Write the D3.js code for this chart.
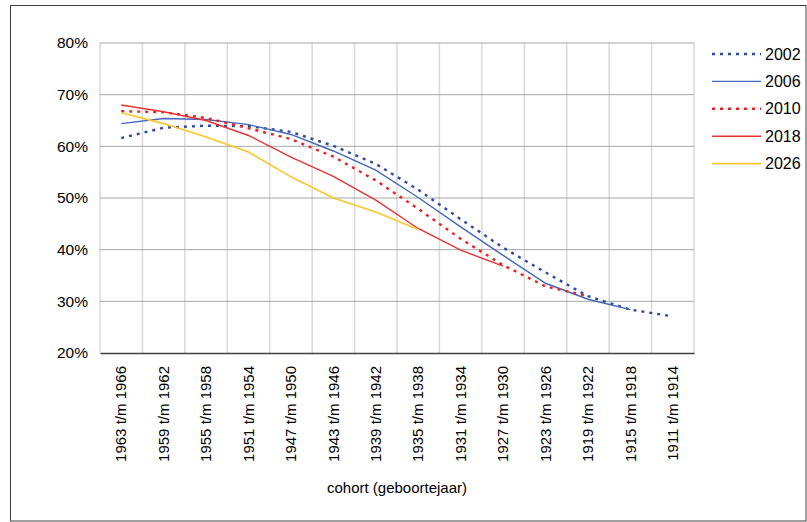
<!DOCTYPE html>
<html>
<head>
<meta charset="utf-8">
<style>
body { margin: 0; background: #fff; }
svg { font-family: Arial, "Liberation Sans", sans-serif; }
.grid-h line { stroke: #a6a6a6; stroke-width: 1; }
.grid-v line { stroke: #d9d9d9; stroke-width: 1.5; }
</style>
<title>cohort</title>
</head>
<body>
<svg width="807" height="522"></svg>
<script src="https://d3js.org/d3.v7.min.js"></script>
<script>
// categories and series
var cohorts = ["1963 t/m 1966", "1959 t/m 1962", "1955 t/m 1958", "1951 t/m 1954",
  "1947 t/m 1950", "1943 t/m 1946", "1939 t/m 1942", "1935 t/m 1938",
  "1931 t/m 1934", "1927 t/m 1930", "1923 t/m 1926", "1919 t/m 1922",
  "1915 t/m 1918", "1911 t/m 1914"];

var y2002 = [0.616, 0.636, 0.640, 0.639, 0.628, 0.601, 0.566, 0.516, 0.459, 0.404, 0.356, 0.310, 0.284, 0.271];
var y2006 = [0.644, 0.654, 0.652, 0.642, 0.623, 0.591, 0.554, 0.501, 0.444, 0.389, 0.335, 0.304, 0.284, null];
var y2010 = [0.668, 0.666, 0.655, 0.635, 0.614, 0.580, 0.534, 0.479, 0.421, 0.370, 0.329, 0.310, null, null];
var y2018 = [0.680, 0.667, 0.650, 0.621, 0.579, 0.542, 0.496, 0.441, 0.399, 0.368, null, null, null, null];
var y2026 = [0.665, 0.644, 0.618, 0.589, 0.541, 0.500, 0.473, 0.439, null, null, null, null, null, null];

var yTicks = [0.2, 0.3, 0.4, 0.5, 0.6, 0.7, 0.8];

var series = [
  {name: "2002", values: y2002, color: "#2b4aa0", dash: "3,5", width: 2.4},
  {name: "2006", values: y2006, color: "#4466bb", dash: null, width: 1.4},
  {name: "2010", values: y2010, color: "#f02020", dash: "3,5", width: 2.4},
  {name: "2018", values: y2018, color: "#e83232", dash: null, width: 1.4},
  {name: "2026", values: y2026, color: "#ffc62a", dash: null, width: 1.6}
];

var svg = d3.select("svg"),
    width = +svg.attr("width"),
    height = +svg.attr("height");

var plotL = 100, plotR = 694, plotT = 43, plotB = 353;

// outer border
svg.append("rect")
    .attr("x", 10.5).attr("y", 5.5)
    .attr("width", width - 11.5).attr("height", height - 6.5)
    .attr("fill", "none")
    .attr("stroke", "#404040");

var x = d3.scaleBand()
    .domain(cohorts)
    .range([plotL, plotR]);

var y = d3.scaleLinear()
    .domain([0.2, 0.8])
    .range([plotB, plotT]);

// vertical gridlines at category boundaries
var bounds = cohorts.map(function(d) { return x(d); }).concat([plotR]);
svg.append("g")
    .attr("class", "grid-v")
  .selectAll("line")
    .data(bounds)
  .enter().append("line")
    .attr("x1", function(d) { return d; })
    .attr("x2", function(d) { return d; })
    .attr("y1", plotT)
    .attr("y2", plotB);

// horizontal gridlines
svg.append("g")
    .attr("class", "grid-h")
  .selectAll("line")
    .data(yTicks.slice(1))
  .enter().append("line")
    .attr("x1", plotL)
    .attr("x2", plotR)
    .attr("y1", function(d) { return y(d); })
    .attr("y2", function(d) { return y(d); });

// y axis labels
var yAxis = svg.append("g")
    .attr("transform", "translate(" + plotL + ",0)")
    .call(d3.axisLeft(y)
        .tickValues(yTicks)
        .tickSize(0)
        .tickPadding(12)
        .tickFormat(d3.format(".0%")));
yAxis.select(".domain").remove();
yAxis.selectAll("text")
    .attr("font-size", 15.5)
    .attr("font-family", "Arial, 'Liberation Sans', sans-serif")
    .attr("fill", "#000");

// x axis
var xAxis = svg.append("g")
    .attr("transform", "translate(0," + plotB + ")")
    .call(d3.axisBottom(x).tickSize(0).tickPadding(0));
xAxis.select(".domain")
    .attr("stroke", "#404040")
    .attr("stroke-width", 1.3);
xAxis.selectAll("text")
    .attr("font-size", 15)
    .attr("font-family", "Arial, 'Liberation Sans', sans-serif")
    .attr("fill", "#000")
    .attr("transform", "rotate(-90)")
    .attr("text-anchor", "end")
    .attr("dy", "0.35em")
    .attr("x", -13)
    .attr("y", 0);

svg.append("text")
    .attr("x", (plotL + plotR) / 2)
    .attr("y", 493)
    .attr("text-anchor", "middle")
    .attr("font-size", 15)
    .text("cohort (geboortejaar)");

// lines
var line = d3.line()
    .defined(function(d) { return d != null; })
    .x(function(d, i) { return x(cohorts[i]) + x.bandwidth() / 2; })
    .y(function(d) { return y(d); });

svg.append("g")
  .selectAll("path")
    .data(series)
  .enter().append("path")
    .attr("d", function(d) { return line(d.values); })
    .attr("fill", "none")
    .attr("stroke", function(d) { return d.color; })
    .attr("stroke-width", function(d) { return d.width; })
    .attr("stroke-dasharray", function(d) { return d.dash; });

// legend
var lg = svg.append("g")
    .attr("transform", "translate(712,54)");

var item = lg.selectAll("g")
    .data(series)
  .enter().append("g")
    .attr("transform", function(d, i) { return "translate(0," + (i * 27.4) + ")"; });

item.append("line")
    .attr("x1", 0).attr("x2", 49)
    .attr("stroke", function(d) { return d.color; })
    .attr("stroke-width", function(d) { return d.width; })
    .attr("stroke-dasharray", function(d) { return d.dash; });

item.append("text")
    .attr("x", 53)
    .attr("dy", "0.35em")
    .attr("font-size", 16)
    .text(function(d) { return d.name; });
</script>
</body>
</html>
